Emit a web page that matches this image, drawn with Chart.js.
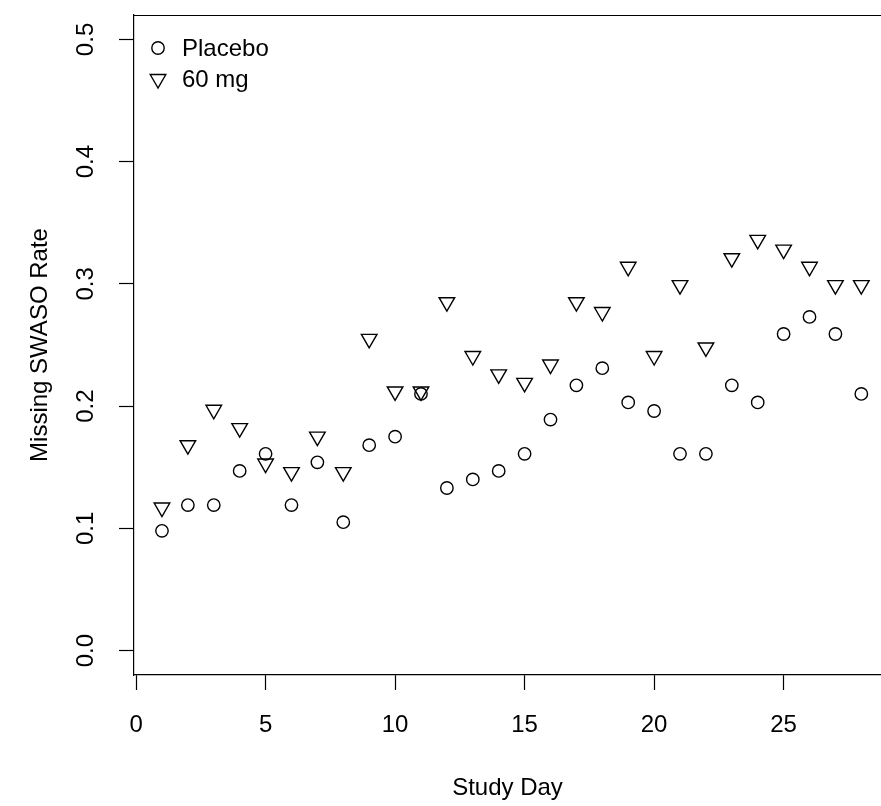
<!DOCTYPE html>
<html>
<head>
<meta charset="utf-8">
<title>Missing SWASO Rate by Study Day</title>
<script src="https://cdn.jsdelivr.net/npm/chart.js@4/dist/chart.umd.min.js"></script>
<style>
  html, body { margin: 0; padding: 0; background: #fff; overflow: hidden; }
  #wrap { position: relative; width: 881px; height: 806px; }
</style>
</head>
<body>
<div id="wrap"><canvas id="swaso-chart"></canvas></div>
<script>
// Data
const studyDays = [
  1, 2, 3, 4, 5, 6, 7, 8, 9, 10, 11, 12, 13, 14,
  15, 16, 17, 18, 19, 20, 21, 22, 23, 24, 25, 26, 27, 28,
];
const placeboRate = [
  0.098, 0.119, 0.119, 0.147, 0.161, 0.119, 0.154, 0.105, 0.168, 0.175, 0.210, 0.133, 0.140, 0.147,
  0.161, 0.189, 0.217, 0.231, 0.203, 0.196, 0.161, 0.161, 0.217, 0.203, 0.259, 0.273, 0.259, 0.210,
];
const mg60Rate = [
  0.117, 0.168, 0.197, 0.182, 0.153, 0.146, 0.175, 0.146, 0.255, 0.212, 0.212, 0.285, 0.241, 0.226,
  0.219, 0.234, 0.285, 0.277, 0.314, 0.241, 0.299, 0.248, 0.321, 0.336, 0.328, 0.314, 0.299, 0.299,
];
const xTicks = [0, 5, 10, 15, 20, 25];
const yTicks = [0.0, 0.1, 0.2, 0.3, 0.4, 0.5];
const seriesNames = ['Placebo', '60 mg'];

const FONT = "'Liberation Sans', Arial, Helvetica, sans-serif";
const INK = '#000';

const toPoints = (ys) => studyDays.map((d, i) => ({ x: d, y: ys[i] }));

// keep the axis boxes at a fixed size, no extra padding for overhanging labels
const fixBox = (w, h) => (s) => {
  if (w !== null) s.width = w;
  if (h !== null) s.height = h;
  s.paddingTop = 0;
  s.paddingBottom = 0;
  s.paddingLeft = 0;
  s.paddingRight = 0;
};

// Frame: R draws a box, the right side is cut off by the picture edge
const topFrame = {
  id: 'topFrame',
  afterDraw(c) {
    const { ctx, chartArea } = c;
    ctx.save();
    ctx.strokeStyle = INK;
    ctx.lineWidth = 1.2;
    ctx.beginPath();
    ctx.moveTo(chartArea.left, chartArea.top + 0.5);
    ctx.lineTo(chartArea.right, chartArea.top + 0.5);
    ctx.stroke();
    ctx.restore();
  },
};

// Legend in the top left corner of the plot, like legend("topleft")
const cornerLegend = {
  id: 'cornerLegend',
  afterDraw(c) {
    const { ctx, chartArea } = c;
    ctx.save();
    ctx.font = `24px ${FONT}`;
    ctx.textBaseline = 'middle';
    ctx.textAlign = 'left';
    c.data.datasets.forEach((ds, i) => {
      const y = chartArea.top + 33 + i * 31;
      const x = chartArea.left + 24;
      ctx.strokeStyle = INK;
      ctx.fillStyle = 'rgba(0,0,0,0)';
      ctx.lineWidth = ds.borderWidth;
      Chart.helpers.drawPoint(ctx, {
        pointStyle: ds.pointStyle,
        rotation: ds.pointRotation || 0,
        radius: ds.pointRadius,
        borderWidth: ds.borderWidth,
      }, x, y);
      ctx.fillStyle = INK;
      ctx.fillText(ds.label, x + 24, y + 1);
    });
    ctx.restore();
  },
};

const ctx = document.getElementById('swaso-chart');
// eslint-disable-next-line no-unused-vars
const chart = new Chart(ctx, {
  type: 'scatter',
  data: {
    datasets: [
      {
        label: seriesNames[0],
        data: toPoints(placeboRate),
        pointStyle: 'circle',
        pointRadius: 6.2,
        borderWidth: 1.4,
        borderColor: INK,
        backgroundColor: 'rgba(0,0,0,0)',
      },
      {
        label: seriesNames[1],
        data: toPoints(mg60Rate),
        pointStyle: 'triangle',
        pointRotation: 180,
        pointRadius: 9,
        borderWidth: 1.4,
        borderColor: INK,
        backgroundColor: 'rgba(0,0,0,0)',
      },
    ],
  },
  options: {
    responsive: true,
    maintainAspectRatio: false,
    animation: false,
    layout: {
      autoPadding: false,
      padding: { top: 15, left: 0, right: 0, bottom: 0 },
    },
    scales: {
      x: {
        type: 'linear',
        min: -0.08,
        max: 28.76,
        afterBuildTicks: (s) => { s.ticks = xTicks.map((v) => ({ value: v })); },
        afterFit: fixBox(null, 131),
        border: { display: true, color: INK, width: 1.2 },
        grid: {
          drawOnChartArea: false,
          drawTicks: true,
          tickLength: 15,
          tickColor: INK,
          tickWidth: 1.2,
        },
        ticks: {
          color: INK,
          font: { family: FONT, size: 24 },
          padding: 21,
          maxRotation: 0,
          autoSkip: false,
        },
        title: {
          display: true,
          text: 'Study Day',
          color: INK,
          font: { family: FONT, size: 24 },
          padding: { top: 0, bottom: 3 },
        },
      },
      y: {
        type: 'linear',
        min: -0.02,
        max: 0.52,
        afterBuildTicks: (s) => { s.ticks = yTicks.map((v) => ({ value: v })); },
        afterFit: fixBox(134, null),
        border: { display: true, color: INK, width: 1.2 },
        grid: {
          drawOnChartArea: false,
          drawTicks: true,
          tickLength: 15,
          tickColor: INK,
          tickWidth: 1.2,
        },
        ticks: {
          color: INK,
          font: { family: FONT, size: 24 },
          padding: 16,
          minRotation: 90,
          maxRotation: 90,
          crossAlign: 'center',
          autoSkip: false,
          callback: (v) => Number(v).toFixed(1),
        },
        title: {
          display: true,
          text: 'Missing SWASO Rate',
          color: INK,
          font: { family: FONT, size: 24 },
          padding: { top: 26, bottom: 0 },
        },
      },
    },
    plugins: {
      legend: { display: false },
      tooltip: { enabled: false },
    },
  },
  plugins: [topFrame, cornerLegend],
});
</script>
</body>
</html>
